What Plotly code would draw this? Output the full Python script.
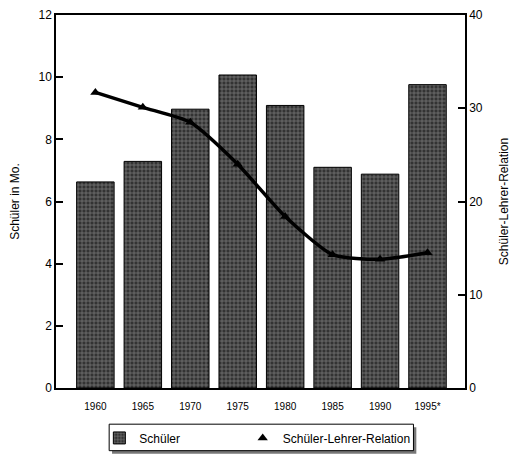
import plotly.graph_objects as go

years = ["1960", "1965", "1970", "1975", "1980", "1985", "1990", "1995*"]
schueler_mio = [6.63, 7.29, 8.97, 10.07, 9.09, 7.10, 6.88, 9.76]
schueler_lehrer_relation = [31.7, 30.1, 28.5, 24.0, 18.4, 14.3, 13.8, 14.5]

font_family = "Liberation Sans, Arial, sans-serif"

fig = go.Figure()
fig.add_trace(go.Bar(
    x=years, y=schueler_mio, name="Schüler", width=0.79,
    marker=dict(color="#333333", line=dict(color="#000000", width=1),
                pattern=dict(shape="+", fgcolor="#cfcfcf", bgcolor="#333333",
                             size=4, solidity=0.3)),
    yaxis="y", legend="legend",
))
fig.add_trace(go.Scatter(
    x=years, y=schueler_lehrer_relation, name="Schüler-Lehrer-Relation",
    mode="lines+markers", line=dict(color="#000000", width=3.5, shape="spline", smoothing=0.6),
    marker=dict(symbol="triangle-up", size=9, color="#000000"),
    yaxis="y2", showlegend=False,
))
fig.add_trace(go.Scatter(
    x=[None], y=[None], name="Schüler-Lehrer-Relation", mode="markers",
    marker=dict(symbol="triangle-up", size=9, color="#000000"), yaxis="y2",
    legend="legend2",
))

# decorative legend frame with drop shadow
fig.add_shape(type="rect", xref="paper", yref="paper",
              x0=0.137, x1=0.881, y0=-0.176, y1=-0.105,
              fillcolor="#777777", line=dict(width=0), layer="below")
fig.add_shape(type="rect", xref="paper", yref="paper",
              x0=0.130, x1=0.874, y0=-0.168, y1=-0.097,
              fillcolor="white", line=dict(color="#000", width=1), layer="below")

fig.update_layout(
    width=517, height=460,
    margin=dict(l=56, r=47, t=8, b=72),
    paper_bgcolor="white", plot_bgcolor="white",
    font=dict(family=font_family, size=12, color="#000000"),
    xaxis=dict(type="category", range=[-0.83, 7.79], showline=True, linecolor="#000",
               linewidth=1.5, mirror=True, ticks="", tickfont=dict(size=10),
               showgrid=False, zeroline=False, ticklabelstandoff=8),
    yaxis=dict(range=[0, 12], dtick=2, showline=True, linecolor="#000", linewidth=1.5,
               ticks="inside", ticklen=7, tickwidth=1.5, tickcolor="#000",
               showgrid=False, zeroline=False,
               title=dict(text="Schüler in Mo.", font=dict(size=12), standoff=16)),
    yaxis2=dict(range=[0, 40], dtick=10, overlaying="y", side="right", showline=True,
                linecolor="#000", linewidth=1.5, ticks="inside", ticklen=7, tickwidth=1.5,
                tickcolor="#000", showgrid=False, zeroline=False,
                title=dict(text="Schüler-Lehrer-Relation", font=dict(size=12), standoff=18)),
    legend=dict(orientation="h", x=0.106, y=-0.095, xanchor="left", yanchor="top",
                bgcolor="rgba(0,0,0,0)", borderwidth=0, itemwidth=30,
                font=dict(size=12)),
    legend2=dict(orientation="h", x=0.4565, y=-0.095, xanchor="left", yanchor="top",
                 bgcolor="rgba(0,0,0,0)", borderwidth=0, itemwidth=30,
                 font=dict(size=12)),
)

fig.write_html("out.html")
